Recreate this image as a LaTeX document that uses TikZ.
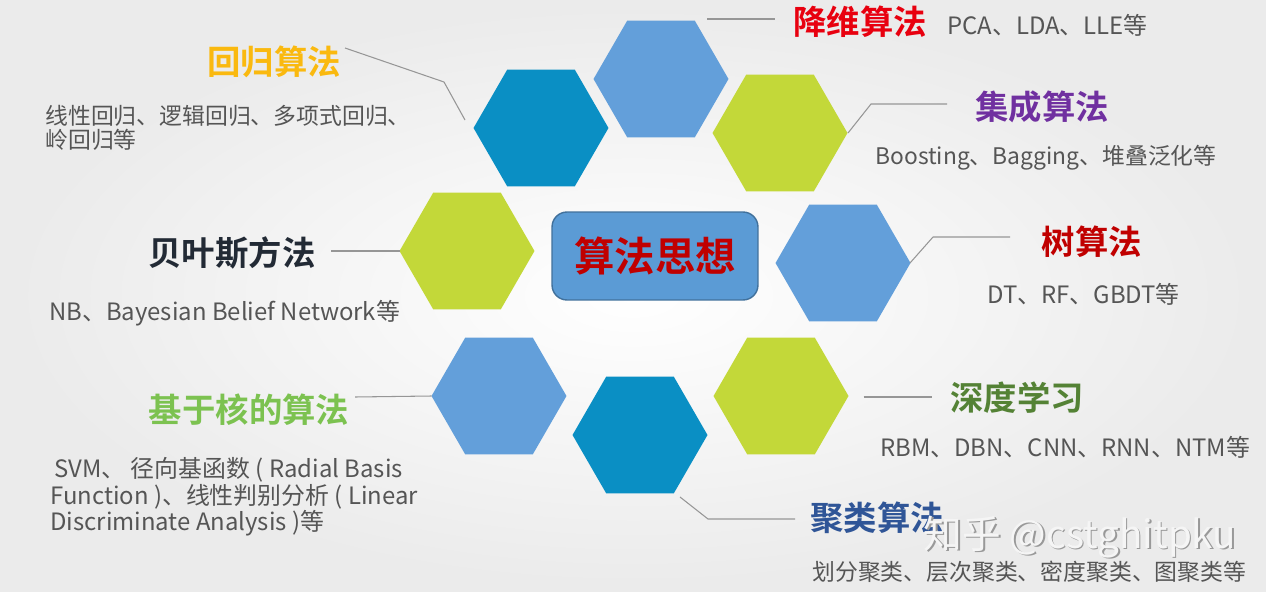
\documentclass[tikz,border=0pt]{standalone}
\usepackage{fontspec}
\setmainfont{Noto Sans CJK SC}
\newfontfamily\cjkbold{Noto Sans CJK SC Bold}
\definecolor{hexLight}{RGB}{99,159,218}
\definecolor{hexDark}{RGB}{10,143,196}
\definecolor{hexLime}{RGB}{195,216,57}
\definecolor{boxFill}{RGB}{91,155,213}
\definecolor{boxLine}{RGB}{65,113,156}
\definecolor{descGray}{RGB}{85,85,85}
\definecolor{lineGray}{RGB}{150,150,150}
\definecolor{tGold}{RGB}{250,185,15}
\definecolor{tRed}{RGB}{232,0,15}
\definecolor{tPurple}{RGB}{112,48,160}
\definecolor{tDarkRed}{RGB}{192,0,0}
\definecolor{tNavy}{RGB}{34,42,53}
\definecolor{tLime}{RGB}{124,194,80}
\definecolor{tGreen}{RGB}{84,130,53}
\definecolor{tBlue}{RGB}{47,85,151}
\usetikzlibrary{shapes.geometric,positioning}

\begin{document}
\begin{tikzpicture}[x=0.02cm, y=-0.02cm,
    hexcell/.style={regular polygon, regular polygon sides=6, minimum size=2.7cm,
      inner sep=0pt, outer sep=0pt, draw=none, fill=#1},
    title/.style={font=\cjkbold\fontsize{19}{22}\selectfont, inner sep=0pt},
    desc/.style={font=\fontsize{13}{15}\selectfont, text=descGray, inner sep=0pt, anchor=west},
    latin/.style={font=\fontsize{13.6}{15}\selectfont, text=descGray, inner sep=0pt, anchor=west},
    leader/.style={draw=lineGray, line width=0.6pt}]
    % background
    \shade[inner color=white, outer color=black!8] (0,0) rectangle (1266,591);
    \useasboundingbox (0,0) rectangle (1266,591);

    % hexagon ring
    \node[hexcell=hexLight] (hdim)  at (661,79)  {};
    \node[hexcell=hexDark]  (hreg)  at (541,128) {};
    \node[hexcell=hexLime]  (hens)  at (780,133) {};
    \node[hexcell=hexLime]  (hbay)  at (467,251) {};
    \node[hexcell=hexLight] (htree) at (843,263) {};
    \node[hexcell=hexLight] (hker)  at (499,396) {};
    \node[hexcell=hexLime]  (hdeep) at (781,396) {};
    \node[hexcell=hexDark]  (hclu)  at (640,435) {};

    % centre box
    \node[draw=boxLine, line width=0.8pt, fill=boxFill, rounded corners=0.3cm,
      minimum width=4.12cm, minimum height=1.76cm, text=tDarkRed,
      font=\cjkbold\fontsize{23}{26}\selectfont] (core) at (655,256) {算法思想};

    % titles
    \node[title, text=tGold]    (treg)  at (274,62)  {回归算法};
    \node[title, text=tRed]     (tdim)  at (860,22)  {降维算法};
    \node[title, text=tPurple]  (tens)  at (1042,107) {集成算法};
    \node[title, text=tDarkRed] (ttree) at (1092,242) {树算法};
    \node[title, text=tNavy]    (tbay)  at (232,253) {贝叶斯方法};
    \node[title, text=tLime]    (tker)  at (249,410) {基于核的算法};
    \node[title, text=tGreen]   (tdeep) at (1017,398) {深度学习};
    \node[title, text=tBlue]    (tclu)  at (877,518) {聚类算法};

    % descriptions
    \node[desc, align=left] (dreg) at (45,128) {线性回归、逻辑回归、多项式回归、\\[-1pt]岭回归等};
    \node[latin] (ddim)  at (947,25)  {PCA、LDA、LLE等};
    \node[desc]  (dens)  at (875,158) {Boosting、Bagging、堆叠泛化等};
    \node[latin] (dtree) at (987,294) {DT、RF、GBDT等};
    \node[latin] (dbay)  at (49,313)  {NB、Bayesian Belief Network等};
    \node[latin, align=left] (dker) at (50,497)
      {\,SVM、 径向基函数 ( Radial Basis\\[0pt]Function )、线性判别分析 ( Linear\\[0pt]Discriminate Analysis )等};
    \node[latin] (ddeep) at (880,447) {RBM、DBN、CNN、RNN、NTM等};
    \node[desc]  (dclu)  at (812,572) {划分聚类、层次聚类、密度聚类、图聚类等};

    % leader lines
    \coordinate (lreg) at (465,120);
    \coordinate (ldim) at (707,19);
    \coordinate (lens) at (848,133);
    \coordinate (ltree) at (910,263);
    \coordinate (lclu) at (680,497);
    \draw[leader] (lreg) -- (444,82) -- (345,48);
    \draw[leader] (ldim) -- (775,19);
    \draw[leader] (lens) -- (871,104) -- (947,104);
    \draw[leader] (ltree) -- (933,237) -- (1010,237);
    \draw[leader] (hbay.west) -- (331,251);
    \draw[leader] (hker.west) -- (355,397);
    \draw[leader] (hdeep.east) ++(15,1) -- (932,397);
    \draw[leader] (lclu) -- (708,519) -- (795,519);

    % watermark
    \node[font=\fontsize{22}{24}\selectfont, text=black!40] at (1081.5,538.5) {知乎 @cstghitpku};
    \node[font=\fontsize{22}{24}\selectfont, text=black!4] (mark) at (1080,537) {知乎 @cstghitpku};
\end{tikzpicture}
\end{document}
